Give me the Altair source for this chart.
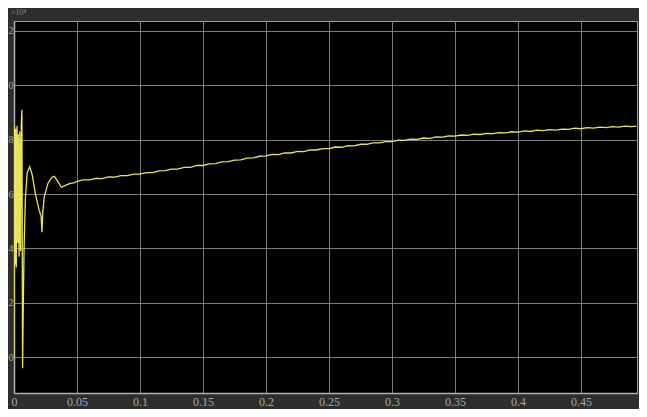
import altair as alt
import pandas as pd

# time axis (s) and signal (x 10^4)
t_early = [0.0, 0.0003, 0.0008, 0.0013, 0.0018, 0.0024, 0.0029, 0.0034, 0.0040, 0.0046,
           0.0052, 0.0058, 0.0063, 0.0068, 0.0074, 0.0080, 0.0090, 0.0105, 0.0125, 0.0145,
           0.0170, 0.0200, 0.0215, 0.0222, 0.0228, 0.0240, 0.0270, 0.0300, 0.0320, 0.0350,
           0.0375, 0.0400, 0.0440, 0.0480]
v_early = [0.0, 8.5, 3.4, 8.4, 3.3, 8.5, 4.2, 8.2, 3.7, 8.3,
           3.9, 8.6, 9.1, -0.4, 2.0, 4.0, 5.8, 6.8, 7.0, 6.7,
           6.0, 5.4, 5.2, 4.6, 5.3, 5.9, 6.4, 6.62, 6.65, 6.45,
           6.25, 6.30, 6.38, 6.42]

t_main = [0.050, 0.055, 0.060, 0.065, 0.070, 0.075, 0.080, 0.085, 0.090, 0.095,
          0.100, 0.105, 0.110, 0.115, 0.120, 0.125, 0.130, 0.135, 0.140, 0.145,
          0.150, 0.155, 0.160, 0.165, 0.170, 0.175, 0.180, 0.185, 0.190, 0.195,
          0.200, 0.205, 0.210, 0.215, 0.220, 0.225, 0.230, 0.235, 0.240, 0.245,
          0.250, 0.255, 0.260, 0.265, 0.270, 0.275, 0.280, 0.285, 0.290, 0.295,
          0.300, 0.305, 0.310, 0.315, 0.320, 0.325, 0.330, 0.335, 0.340, 0.345,
          0.350, 0.355, 0.360, 0.365, 0.370, 0.375, 0.380, 0.385, 0.390, 0.395,
          0.400, 0.405, 0.410, 0.415, 0.420, 0.425, 0.430, 0.435, 0.440, 0.445,
          0.450, 0.455, 0.460, 0.465, 0.470, 0.475, 0.480, 0.485, 0.490, 0.494]
v_main = [6.47, 6.52, 6.52, 6.58, 6.57, 6.63, 6.62, 6.68, 6.68, 6.73,
          6.73, 6.79, 6.79, 6.85, 6.86, 6.92, 6.92, 6.98, 6.98, 7.05,
          7.05, 7.11, 7.12, 7.18, 7.19, 7.25, 7.26, 7.32, 7.33, 7.39,
          7.40, 7.46, 7.45, 7.51, 7.51, 7.57, 7.56, 7.62, 7.62, 7.67,
          7.67, 7.73, 7.72, 7.78, 7.77, 7.83, 7.83, 7.88, 7.88, 7.93,
          7.93, 7.98, 7.97, 8.02, 8.01, 8.06, 8.05, 8.10, 8.09, 8.14,
          8.13, 8.17, 8.16, 8.20, 8.19, 8.23, 8.22, 8.26, 8.25, 8.29,
          8.28, 8.32, 8.30, 8.35, 8.33, 8.37, 8.35, 8.39, 8.38, 8.42,
          8.40, 8.44, 8.42, 8.46, 8.44, 8.48, 8.46, 8.50, 8.48, 8.50]

x_ticks = [0, 0.05, 0.1, 0.15, 0.2, 0.25, 0.3, 0.35, 0.4, 0.45]
y_ticks = [0, 2, 4, 6, 8, 10, 12]

df = pd.DataFrame({"t": t_early + t_main, "v": v_early + v_main})

grid_col = "#7c7c7c"
lab_col = "#a8a8a8"

chart = alt.Chart(df).mark_line(color="#e8e45c", strokeWidth=1.3, clip=True).encode(
    x=alt.X("t:Q",
            scale=alt.Scale(domain=[0, 0.4945], nice=False, zero=False),
            axis=alt.Axis(values=x_ticks, title=None, grid=True, gridColor=grid_col,
                          gridWidth=1, tickSize=0, domainColor="#b0b0b0", domainWidth=1.5,
                          labelColor=lab_col, labelFont="Liberation Sans Narrow",
                          labelFontSize=12, labelPadding=3, labelFlush=False,
                          labelOverlap=False, format="~g")),
    y=alt.Y("v:Q",
            scale=alt.Scale(domain=[-1.31, 12.36], nice=False, zero=False),
            axis=alt.Axis(values=y_ticks, title=None, grid=True, gridColor=grid_col,
                          gridWidth=1, tickSize=0, domainColor="#b0b0b0", domainWidth=1.5,
                          labelColor=lab_col, labelFont="Liberation Sans Narrow",
                          labelFontSize=10, labelPadding=1, labelFlush=False,
                          labelOverlap=False, labelExpr="datum.value % 10")),
).properties(
    width=623, height=372,
    background="#2d2d2d",
    padding={"left": 6, "top": 13, "right": 2, "bottom": 16},
    autosize="none",
    title=alt.TitleParams("×10⁴", anchor="start", fontSize=8, color="#8a8a8a",
                          font="Liberation Sans Narrow", fontWeight="normal",
                          offset=4, dx=3),
).configure_view(fill="black", stroke="#9a9a9a", strokeWidth=1)

chart.save("out.html", embed_options={"renderer": "svg", "actions": False})
